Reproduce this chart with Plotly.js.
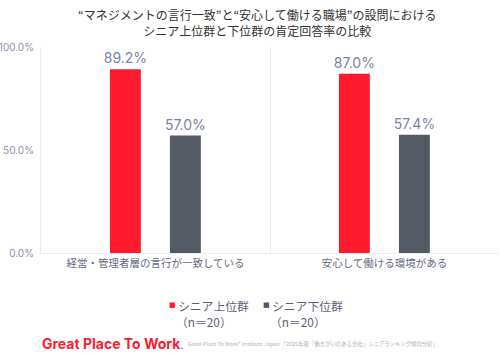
<!DOCTYPE html>
<html><head><meta charset="utf-8">
<script src="https://cdn.plot.ly/plotly-3.0.1.min.js"></script>
<style>html,body{margin:0;padding:0;background:#fff}#c{width:500px;height:353px}</style>
</head><body><div id="c"></div>
<script>
const categories = ["経営・管理者層の言行が一致している", "安心して働ける環境がある"];
const seriesNames = ["シニア上位群", "シニア下位群"];
const seriesN = ["（n＝20）", "（n＝20）"];
const topValues = [89.2, 87.0];
const bottomValues = [57.0, 57.4];
const yTicks = [0, 50, 100];

const FONT = "Inter, 'Noto Sans CJK JP', sans-serif";
const JP = "'Noto Sans CJK JP', sans-serif";
const labelColor = "#7b82a8";
const colors = ["#ff1a2d", "#535a63"];

const traces = [
  {type:"bar", name:seriesNames[0], x:categories, y:topValues,
   marker:{color:colors[0]}, width:0.135, offset:-0.199, constraintext:"none",
   text:topValues.map(v=>v.toFixed(1)+"%"), textposition:"outside", cliponaxis:false,
   textfont:{size:14, color:labelColor, family:FONT}, hoverinfo:"skip"},
  {type:"bar", name:seriesNames[1], x:categories, y:bottomValues,
   marker:{color:colors[1]}, width:0.135, offset:0.063, constraintext:"none",
   text:bottomValues.map(v=>v.toFixed(1)+"%"), textposition:"outside", cliponaxis:false,
   textfont:{size:14, color:labelColor, family:FONT}, hoverinfo:"skip"}
];

const legendX = [168, 262];
const ann = [
  {xref:"paper", yref:"paper", x:(257-41)/458, y:1+(47-22)/206, xanchor:"center", yanchor:"middle", showarrow:false,
   text:"“マネジメントの言行一致”と“安心して働ける職場”の設問における<br>シニア上位群と下位群の肯定回答率の比較",
   font:{size:12, color:"#333", family:JP}},
  {xref:"paper", yref:"paper", x:-0.002, y:-(343-253)/206, xanchor:"left", yanchor:"middle", showarrow:false,
   text:"<b>Great Place To Work</b><span style='font-size:9px'><b>.</b></span>", font:{size:14, color:"#ff1a2d", family:"Inter, sans-serif"}},
  {xref:"paper", yref:"paper", x:(186-41)/458, y:-(343.5-253)/206, xanchor:"left", yanchor:"middle", showarrow:false,
   text:"Great Place To Work® Institute Japan 「2025年版『働きがいのある会社』シニアランキング傾向分析」",
   font:{size:5.4, color:"#b0b0b8", family:JP}}
];
seriesNames.forEach((n,i)=>{
  ann.push({xref:"paper", yref:"paper", x:(legendX[i]-41)/458, y:-(305-253)/206, xanchor:"left", yanchor:"middle", showarrow:false,
    borderpad:0, text:"■", font:{size:7, color:colors[i], family:"DejaVu Sans"}});
  ann.push({xref:"paper", yref:"paper", x:(legendX[i]+9-41)/458, y:-(305-253)/206, xanchor:"left", yanchor:"middle", showarrow:false,
    borderpad:0, text:n, font:{size:11.8, color:"#5d6178", family:JP}});
  ann.push({xref:"paper", yref:"paper", x:(legendX[i]+7-41)/458, y:-(321-253)/206, xanchor:"left", yanchor:"middle", showarrow:false,
    borderpad:0, text:seriesN[i], font:{size:11.8, color:"#5d6178", family:JP}});
});

const layout = {
  width:500, height:353,
  margin:{l:41, r:1, t:47, b:100},
  paper_bgcolor:"#fff", plot_bgcolor:"#fff",
  font:{family:FONT},
  barmode:"overlay",
  xaxis:{type:"category", tickson:"boundaries", showgrid:true, gridcolor:"#ececf0", gridwidth:1,
         showline:true, linecolor:"#ececf0", ticks:"", zeroline:false,
         tickfont:{size:10.5, color:"#666a80", family:JP}},
  yaxis:{range:[0,100], tickvals:yTicks, ticktext:yTicks.map(v=>v.toFixed(1)+"%"),
         showgrid:false, zeroline:false, showline:true, linecolor:"#ececf0", ticks:"",
         tickfont:{size:10, color:"#8a90b0", family:FONT}, ticklabelstandoff:4},
  showlegend:false,
  annotations:ann
};
Plotly.newPlot("c", traces, layout, {displayModeBar:false, staticPlot:true});
</script></body></html>
